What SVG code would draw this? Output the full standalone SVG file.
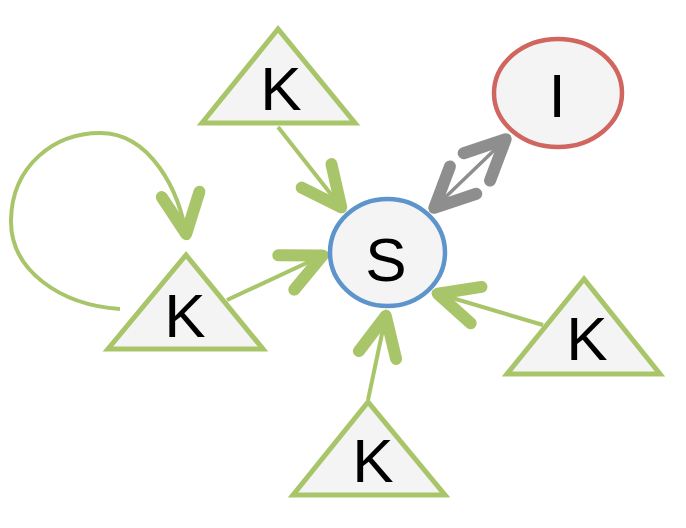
<svg xmlns="http://www.w3.org/2000/svg" width="686" height="528" viewBox="0 0 686 528">
<style>
.tri{fill:#F4F4F4;stroke:#A9C56A;stroke-width:5;stroke-linejoin:miter}
.lbl{font-family:"Liberation Sans",Arial,sans-serif;font-size:62px;fill:#000;text-anchor:middle}
.g{fill:none;stroke:#A9C56A;stroke-width:4}
.gr{fill:none;stroke:#8E8E8E;stroke-width:3.5}
</style>
<defs>
<marker id="ag" markerUnits="userSpaceOnUse" orient="auto" overflow="visible" markerWidth="1" markerHeight="1" refX="0" refY="0">
<path d="M -46 -19 L -6 0 L -46 19" fill="none" stroke="#A9C56A" stroke-width="12" stroke-linecap="round" stroke-linejoin="round"/>
</marker>
<marker id="agr" markerUnits="userSpaceOnUse" orient="auto-start-reverse" overflow="visible" markerWidth="1" markerHeight="1" refX="0" refY="0">
<path d="M -46 -19 L -6 0 L -46 19" fill="none" stroke="#8E8E8E" stroke-width="12" stroke-linecap="round" stroke-linejoin="round"/>
</marker>
</defs>
<g id="connectors">
<path class="g" d="M 278 127 L 345 212" marker-end="url(#ag)"/>
<path class="g" d="M 227 300 L 328 253" marker-end="url(#ag)"/>
<path class="g" d="M 543 325 L 432 292" marker-end="url(#ag)"/>
<path class="g" d="M 368 400 L 387 310" marker-end="url(#ag)"/>
<path class="gr" d="M 430 212 L 510 135" marker-start="url(#agr)" marker-end="url(#agr)"/>
<path class="g" d="M 120 309 C 60 305 10 270 11 220 C 12 165 55 133 100 133 C 150 133 180 190 187 240" marker-end="url(#ag)"/>
</g>
<g id="node-S">
<ellipse cx="387.5" cy="252.5" rx="57.5" ry="53.5" fill="#F4F4F4" stroke="#5E94CC" stroke-width="4.5"/>
<text class="lbl" x="386" y="281">S</text>
</g>
<g id="node-I">
<ellipse cx="558" cy="93" rx="64" ry="54" fill="#F4F4F4" stroke="#D0665F" stroke-width="4.5"/>
<text class="lbl" x="557" y="117">I</text>
</g>
<g id="node-K-top">
<polygon class="tri" points="278,29 202,123 355,123"/>
<text class="lbl" x="281" y="110">K</text>
</g>
<g id="node-K-left">
<polygon class="tri" points="186,255 108,349 263,349"/>
<text class="lbl" x="185" y="337">K</text>
</g>
<g id="node-K-right">
<polygon class="tri" points="584,279 507,374 660,374"/>
<text class="lbl" x="587" y="360">K</text>
</g>
<g id="node-K-bottom">
<polygon class="tri" points="368,402 293,495 445,495"/>
<text class="lbl" x="373" y="482">K</text>
</g>
</svg>
